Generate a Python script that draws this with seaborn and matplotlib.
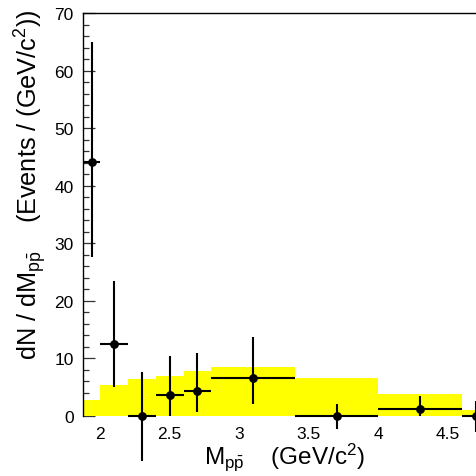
import matplotlib
matplotlib.use("Agg")
import matplotlib.pyplot as plt
import seaborn as sns
import numpy as np

# Measured spectrum: bin centres, bin edges, yields and error limits
x_center = [1.94, 2.1, 2.3, 2.5, 2.7, 3.1, 3.7, 4.3, 4.7]
x_low = [1.88, 2.0, 2.2, 2.4, 2.6, 2.8, 3.4, 4.0, 4.6]
x_high = [2.0, 2.2, 2.4, 2.6, 2.8, 3.4, 4.0, 4.6, 4.8]
y_val = [44.1, 12.5, 0.0, 3.6, 4.3, 6.65, 0.0, 1.15, 0.0]
y_up = [64.9, 23.5, 7.6, 10.5, 10.9, 13.7, 2.1, 3.4, 2.65]
y_lo = [27.7, 5.1, -7.8, 0.0, 0.7, 2.1, -2.3, 0.0, -2.8]

# Phase-space expectation histogram (yellow band)
band_edges = [1.88, 2.0, 2.2, 2.4, 2.6, 2.8, 3.4, 4.0, 4.6, 4.8]
band_height = [2.8, 5.45, 6.4, 6.95, 7.9, 8.5, 6.55, 3.8, 1.05]

x_ticks = [2, 2.5, 3, 3.5, 4, 4.5]
x_tick_labels = ["2", "2.5", "3", "3.5", "4", "4.5"]
y_ticks = [0, 10, 20, 30, 40, 50, 60, 70]

sns.set_style("white")
plt.rcParams["font.family"] = ["Liberation Sans", "DejaVu Sans"]
plt.rcParams["mathtext.fontset"] = "custom"
plt.rcParams["mathtext.rm"] = "Liberation Sans"
plt.rcParams["mathtext.it"] = "Liberation Sans"
plt.rcParams["mathtext.bf"] = "Liberation Sans"
plt.rcParams["text.color"] = "black"
plt.rcParams["xtick.color"] = "black"
plt.rcParams["ytick.color"] = "black"
plt.rcParams["axes.labelcolor"] = "black"

fig = plt.figure(figsize=(4.76, 4.77), dpi=100)
W, H = 476.0, 477.0
ppu = 139.2  # pixels per GeV
x0, x1 = 1.88, 4.8
left_px, bottom_px, top_px = 83.3, 417.0, 14.0
ax = fig.add_axes([left_px / W, (H - bottom_px) / H,
                   (x1 - x0) * ppu / W, (bottom_px - top_px) / H])

# Yellow band drawn as a weighted histogram
band_centers = [(a + b) / 2 for a, b in zip(band_edges[:-1], band_edges[1:])]
sns.histplot(x=band_centers, weights=band_height, bins=band_edges,
             element="step", fill=True, color="#ffff00", alpha=1.0,
             linewidth=0, ax=ax, zorder=1)

# Data points with asymmetric errors
xv = np.array(x_center)
yv = np.array(y_val)
xerr = np.vstack([xv - np.array(x_low), np.array(x_high) - xv])
yerr = np.vstack([yv - np.array(y_lo), np.array(y_up) - yv])
eb = ax.errorbar(xv, yv, xerr=xerr, yerr=yerr, fmt="none", ecolor="black",
                 elinewidth=1.5, capsize=0, zorder=3)
for artist in eb.lines[2]:
    artist.set_clip_on(False)
sns.scatterplot(x=x_center, y=y_val, color="black", s=40, edgecolor="black",
                linewidth=0, ax=ax, zorder=4, clip_on=False)

ax.set_xlim(x0, x1)
ax.set_ylim(0, 70)
ax.set_xticks(x_ticks)
ax.set_xticklabels(x_tick_labels)
ax.set_yticks(y_ticks)
ax.set_yticks(np.arange(0, 70.1, 2), minor=True)
ax.tick_params(axis="y", which="major", direction="in", length=8.5, width=0.9,
               color="#333333", labelcolor="black", labelsize=12.5, pad=7,
               left=True)
ax.tick_params(axis="y", which="minor", direction="in", length=4, width=0.9,
               color="#333333", left=True)
ax.tick_params(axis="x", which="both", length=0, labelsize=12.5, pad=7,
               labelcolor="black")
ax.set_xlabel("")
ax.set_ylabel("")

for side in ["bottom", "right"]:
    ax.spines[side].set_visible(False)
for side in ["top", "left"]:
    ax.spines[side].set_visible(True)
    ax.spines[side].set_color("black")
    ax.spines[side].set_linewidth(1.0)

fig.text(284.5 / W, (H - 464) / H,
         r"$\mathregular{M_{p\bar{p}}}$    (GeV/c$^{2}$)",
         ha="center", va="baseline", fontsize=17.5, color="black")
fig.text(30 / W, (H - 185) / H,
         r"dN / d$\mathregular{M_{p\bar{p}}}$    (Events / (GeV/c$^{2}$))",
         ha="center", va="center", rotation=90, fontsize=18.2, color="black")

fig.savefig("out.png", dpi=100)
